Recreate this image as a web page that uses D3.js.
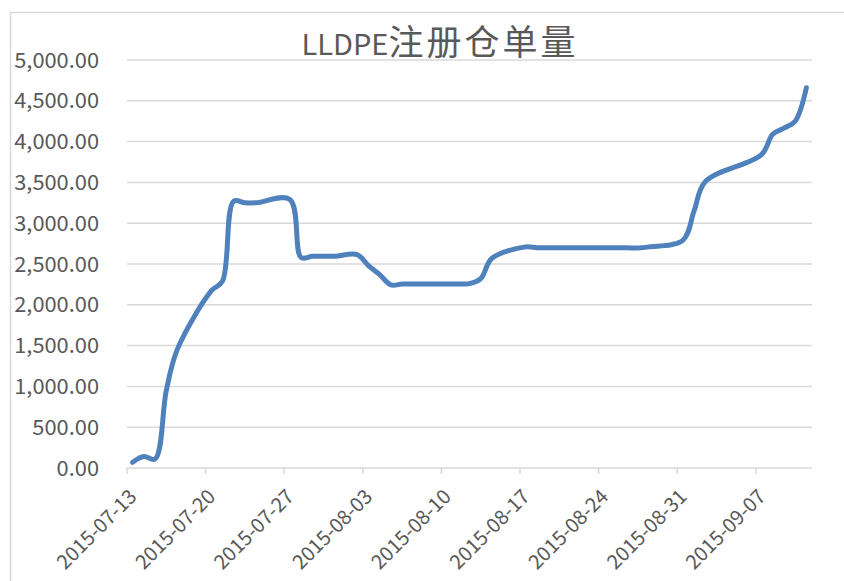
<!DOCTYPE html>
<html><head><meta charset="utf-8">
<script src="https://cdn.jsdelivr.net/npm/d3@7"></script>
<style>body{margin:0;background:#fff} svg{display:block}</style>
</head><body>
<svg id="chart" width="844" height="581"></svg>
<script>
const title = "LLDPE注册仓单量";
const dates = ["2015-07-13","2015-07-14","2015-07-15","2015-07-16","2015-07-17",
  "2015-07-20","2015-07-21","2015-07-22","2015-07-23","2015-07-24",
  "2015-07-27","2015-07-28","2015-07-29","2015-07-30","2015-07-31","2015-08-02",
  "2015-08-03","2015-08-04","2015-08-05","2015-08-06","2015-08-07",
  "2015-08-10","2015-08-11","2015-08-12","2015-08-13","2015-08-14",
  "2015-08-17","2015-08-18","2015-08-19","2015-08-20","2015-08-21",
  "2015-08-24","2015-08-25","2015-08-26","2015-08-27","2015-08-28",
  "2015-08-31","2015-09-01","2015-09-02",
  "2015-09-07","2015-09-08","2015-09-09","2015-09-10","2015-09-11"];
const values = [70,140,110,950,1460,
  2170,2290,3270,3250,3250,
  3290,2580,2595,2595,2595,2615,
  2480,2370,2245,2255,2255,
  2255,2255,2260,2320,2570,
  2710,2700,2700,2700,2700,
  2700,2700,2700,2695,2710,
  2790,3150,3510,
  3840,4090,4165,4250,4660];
const yTicks = [0,500,1000,1500,2000,2500,3000,3500,4000,4500,5000];
const xTickLabels = ["2015-07-13","2015-07-20","2015-07-27","2015-08-03","2015-08-10",
  "2015-08-17","2015-08-24","2015-08-31","2015-09-07"];
const axisStart = "2015-07-13", axisEnd = "2015-09-12";

const parse = d3.utcParse("%Y-%m-%d");
const svg = d3.select("#chart");
const textColor = "#595959", gridColor = "#D9D9D9";
const font = "'Noto Sans CJK SC', 'Liberation Sans', sans-serif";

// chart border
svg.append("rect").attr("x",10.5).attr("y",12.5).attr("width",900).attr("height",700)
  .attr("fill","none").attr("stroke",gridColor).attr("stroke-width",1.5);

const x = d3.scaleUtc().domain([parse(axisStart), parse(axisEnd)]).range([127, 812]);
const y = d3.scaleLinear().domain([0,5000]).range([468, 60]);
const halfDay = 12*3600*1000;

// gridlines
svg.append("g").selectAll("line").data(yTicks).join("line")
  .attr("x1", x.range()[0]).attr("x2", x.range()[1])
  .attr("y1", d=>y(d)).attr("y2", d=>y(d))
  .attr("stroke", gridColor).attr("stroke-width",1.5);

// y labels
const fmt = d3.format(",.2f");
svg.append("g").selectAll("text").data(yTicks).join("text")
  .attr("transform", d=>`translate(99,${y(d)}) scale(1.04,1)`)
  .attr("dy","0.36em").attr("text-anchor","end")
  .attr("font-family", font).attr("font-size",21).attr("fill",textColor)
  .text(d=>fmt(d));

// x ticks
const xt = xTickLabels.map(parse);
svg.append("g").selectAll("line").data(xt).join("line")
  .attr("x1", d=>x(d)).attr("x2", d=>x(d)).attr("y1", y(0)).attr("y2", y(0)+6)
  .attr("stroke", gridColor).attr("stroke-width",1.5);
svg.append("g").selectAll("text").data(xt).join("text")
  .attr("transform", d=>`translate(${x(d)+1},${y(0)+20}) rotate(-45)`)
  .attr("text-anchor","end").attr("dy","0.7em")
  .attr("font-family", font).attr("font-size",20).attr("fill",textColor)
  .text((d,i)=>xTickLabels[i]);

// line
const pts = dates.map((d,i)=>({date:parse(d), v:values[i]}));
const line = d3.line().x(d=>x(new Date(d.date.getTime()+halfDay))).y(d=>y(d.v))
  .curve(d3.curveCatmullRom.alpha(0.5));
svg.append("path").datum(pts).attr("d", line)
  .attr("fill","none").attr("stroke","#4F81BD").attr("stroke-width",5)
  .attr("stroke-linecap","round").attr("stroke-linejoin","round");

// title
const t = svg.append("text").attr("x",440).attr("y",55).attr("text-anchor","middle")
  .attr("font-family", font).attr("fill",textColor);
t.append("tspan").attr("font-size",29).text(title.slice(0,5));
t.append("tspan").attr("font-size",35).attr("letter-spacing",3).text(title.slice(5));
</script>
</body></html>
